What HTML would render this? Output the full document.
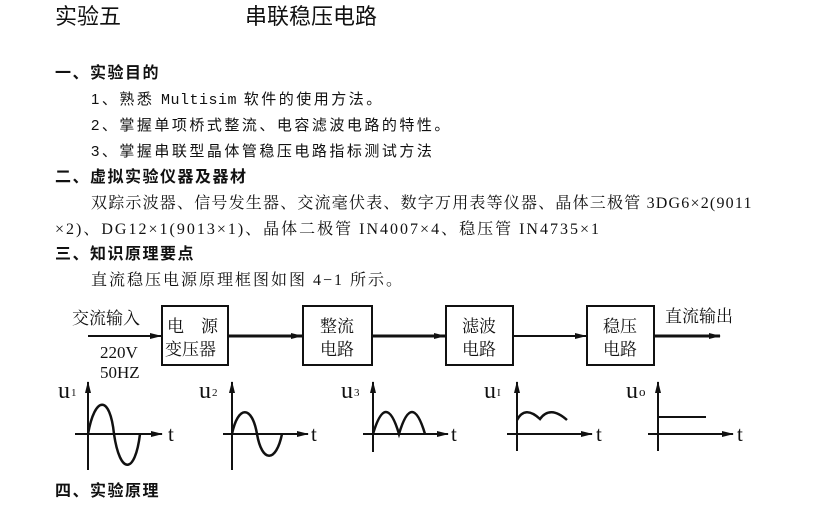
<!DOCTYPE html>
<html><head><meta charset="utf-8"><style>
body{margin:0;width:817px;height:510px;background:#fff;position:relative;overflow:hidden;font-family:"Liberation Serif","Noto Serif CJK SC",serif;color:#111}
.t{position:absolute;white-space:nowrap;line-height:1}
.s{font-family:"Liberation Sans","Noto Sans CJK SC",sans-serif}
.b{font-weight:bold}
.h{font-size:16px;letter-spacing:1.5px}
.l{font-size:15px;letter-spacing:2.5px}
</style></head><body>
<div class="t s" style="left:55px;top:6px;font-size:22px">实验五</div>
<div class="t s" style="left:245px;top:6px;font-size:22px">串联稳压电路</div>
<div class="t s b h" style="left:55px;top:66px">一、实验目的</div>
<div class="t s l" style="left:91px;top:92px">1、熟悉 <span style="font-family:'Liberation Mono',monospace;letter-spacing:0.5px">Multisim</span> 软件的使用方法。</div>
<div class="t s l" style="left:91px;top:118px">2、掌握单项桥式整流、电容滤波电路的特性。</div>
<div class="t s l" style="left:91px;top:144px">3、掌握串联型晶体管稳压电路指标测试方法</div>
<div class="t s b h" style="left:55px;top:170px">二、虚拟实验仪器及器材</div>
<div class="t" style="left:91px;top:196px;font-size:16px;letter-spacing:1.2px">双踪示波器、信号发生器、交流毫伏表、数字万用表等仪器、晶体三极管 3DG6×2(9011</div>
<div class="t" style="left:55px;top:222px;font-size:16px;letter-spacing:2px">×2)、DG12×1(9013×1)、晶体二极管 IN4007×4、稳压管 IN4735×1</div>
<div class="t s b h" style="left:55px;top:247px">三、知识原理要点</div>
<div class="t" style="left:91px;top:273px;font-size:16px;letter-spacing:2px">直流稳压电源原理框图如图 4−1 所示。</div>
<div class="t s b h" style="left:55px;top:484px">四、实验原理</div>
<svg width="817" height="510" style="position:absolute;left:0;top:0" font-family="Liberation Serif,Noto Serif CJK SC,serif">
<defs><marker id="a" markerWidth="12" markerHeight="8" refX="11" refY="4" orient="auto" markerUnits="userSpaceOnUse"><path d="M0,1 L12,4 L0,7 Z" fill="#111"/></marker></defs>
<g stroke="#111" stroke-width="2" fill="none">
<rect x="162" y="306" width="66" height="59"/>
<rect x="303" y="306" width="69" height="59"/>
<rect x="446" y="306" width="67" height="59"/>
<rect x="587" y="306" width="67" height="59"/>
<line x1="88" y1="336" x2="161" y2="336" marker-end="url(#a)"/>
<line x1="228" y1="336" x2="302" y2="336" stroke-width="3" marker-end="url(#a)"/>
<line x1="372" y1="336" x2="445" y2="336" stroke-width="3" marker-end="url(#a)"/>
<line x1="513" y1="336" x2="586" y2="336" marker-end="url(#a)"/>
<line x1="654" y1="336" x2="720" y2="336" stroke-width="3" marker-end="url(#a)"/>
<line x1="88" y1="470" x2="88" y2="382" marker-end="url(#a)"/>
<line x1="75" y1="434" x2="162" y2="434" marker-end="url(#a)"/>
<path d="M88,434 C95,395 110,395 114,434 C120,475 135,475 140,434" stroke-width="2.5"/>
<line x1="232" y1="470" x2="232" y2="382" marker-end="url(#a)"/>
<line x1="223" y1="434" x2="308" y2="434" marker-end="url(#a)"/>
<path d="M232,434 C238,405 252,405 257,434 C262,463 276,463 282,434" stroke-width="2.5"/>
<line x1="373" y1="452" x2="373" y2="382" marker-end="url(#a)"/>
<line x1="363" y1="434" x2="448" y2="434" marker-end="url(#a)"/>
<path d="M373,434 Q386,390 399,434 Q412,390 425,434" stroke-width="2.5"/>
<line x1="517" y1="451" x2="517" y2="382" marker-end="url(#a)"/>
<line x1="507" y1="434" x2="592" y2="434" marker-end="url(#a)"/>
<path d="M517,420 Q525,405 540,419 Q550,405 567,420" stroke-width="2.5"/>
<line x1="658" y1="451" x2="658" y2="382" marker-end="url(#a)"/>
<line x1="648" y1="434" x2="733" y2="434" marker-end="url(#a)"/>
<line x1="658" y1="417" x2="706" y2="417"/>
</g>
<g fill="#111" font-size="17">
<text x="72" y="324">交流输入</text>
<text x="167" y="332">电　源</text>
<text x="165" y="355">变压器</text>
<text x="320" y="332">整流</text>
<text x="320" y="355">电路</text>
<text x="462" y="332">滤波</text>
<text x="462" y="355">电路</text>
<text x="603" y="332">稳压</text>
<text x="603" y="355">电路</text>
<text x="665" y="322">直流输出</text>
<text x="100" y="358" font-size="17">220V</text>
<text x="100" y="378" font-size="17">50HZ</text>
<text x="58" y="398" font-size="24">u</text><text x="71" y="396" font-size="11">1</text>
<text x="199" y="398" font-size="24">u</text><text x="212" y="396" font-size="11">2</text>
<text x="341" y="398" font-size="24">u</text><text x="354" y="396" font-size="11">3</text>
<text x="484" y="398" font-size="24">u</text><text x="497" y="396" font-size="11">I</text>
<text x="626" y="398" font-size="24">u</text><text x="639" y="396" font-size="13">o</text>
<text x="168" y="441" font-size="21">t</text>
<text x="311" y="441" font-size="21">t</text>
<text x="451" y="441" font-size="21">t</text>
<text x="596" y="441" font-size="21">t</text>
<text x="737" y="441" font-size="21">t</text>
</g>
</svg>
</body></html>
